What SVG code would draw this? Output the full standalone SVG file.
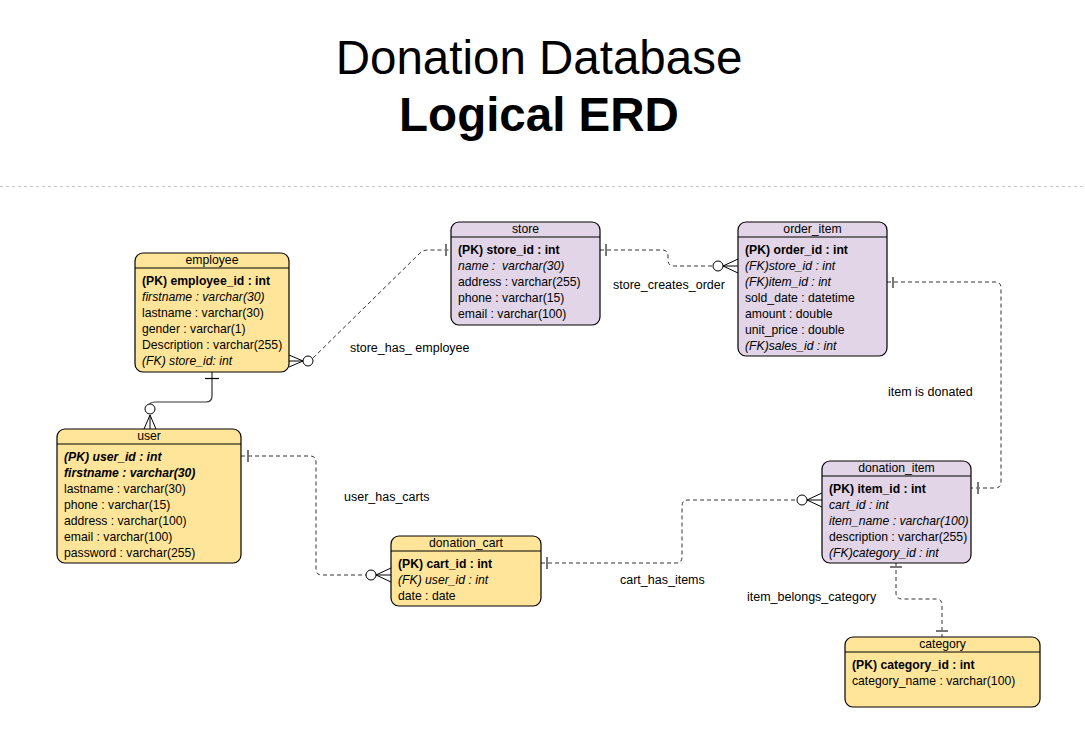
<svg xmlns="http://www.w3.org/2000/svg" width="1085" height="735" viewBox="0 0 1085 735">
<style>
text{font-family:"Liberation Sans",Arial,sans-serif;fill:#000;white-space:pre}
.t{font-size:47.5px;text-anchor:middle}
.b{font-weight:bold}
.i{font-style:italic}
.r{font-size:12.2px}
.h{font-size:12.2px;text-anchor:middle}
.lbl{font-size:12.5px}
.y{fill:#FFE599;stroke:#000;stroke-width:1.2}
.p{fill:#E1D5E7;stroke:#000;stroke-width:1.2}
.hl{stroke:#000;stroke-width:1.2}
.dash{fill:none;stroke:#333;stroke-width:1;stroke-dasharray:4 3}
.solid{fill:none;stroke:#333;stroke-width:1.2}
.bar{stroke:#777;stroke-width:2}
.circ{fill:#fff;stroke:#000;stroke-width:1}
.crow{fill:none;stroke:#000;stroke-width:1}
</style>
<rect width="1085" height="735" fill="#fff"/>
<text class="t" x="539" y="74">Donation Database</text>
<text class="t b" x="539" y="131">Logical ERD</text>
<line x1="0" y1="186.5" x2="1085" y2="186.5" stroke="#c8c8c8" stroke-dasharray="3 3"/>

<g id="connectors">
  <!-- store_has_employee -->
  <path class="dash" d="M313,358 L419,254 Q423,250 428,250 L451,250"/>
  <line class="bar" x1="446" y1="244" x2="446" y2="256"/>
  <circle class="circ" cx="308" cy="361" r="5"/>
  <path class="crow" d="M289,355 L303,361 L289,367 M289,361 L303,361"/>
  <text class="lbl" x="350" y="352">store_has_ employee</text>

  <!-- employee - user -->
  <path class="solid" d="M212,372 L212,396 Q212,402 206,402 L156,402 Q150,402 150,404"/>
  <line x1="205" y1="378.5" x2="219" y2="378.5" stroke="#000" stroke-width="1.2"/>
  <circle class="circ" cx="150" cy="409" r="5"/>
  <path class="crow" d="M144,429 L150,415 L156,429 M150,415 L150,429"/>

  <!-- store_creates_order -->
  <path class="dash" d="M600,250 L662,250 Q668,250 668,256 L668,260 Q668,266 674,266 L713,266"/>
  <line class="bar" x1="606" y1="244" x2="606" y2="256"/>
  <circle class="circ" cx="718" cy="266" r="5"/>
  <path class="crow" d="M738,259 L723,266 L738,273 M723,266 L738,266"/>
  <text class="lbl" x="613" y="289">store_creates_order</text>

  <!-- item is donated -->
  <path class="dash" d="M887,282 L995,282 Q1001,282 1001,288 L1001,482 Q1001,488 995,488 L971,488"/>
  <line class="bar" x1="893" y1="277" x2="893" y2="288"/>
  <line class="bar" x1="978" y1="482" x2="978" y2="494"/>
  <text class="lbl" x="888" y="396">item is donated</text>

  <!-- user_has_carts -->
  <path class="dash" d="M241,456 L310,456 Q316,456 316,462 L316,569 Q316,575 322,575 L366,575"/>
  <line class="bar" x1="248" y1="450" x2="248" y2="462"/>
  <circle class="circ" cx="371" cy="575" r="5"/>
  <path class="crow" d="M391,568 L376,575 L391,582 M376,575 L391,575"/>
  <text class="lbl" x="344" y="501">user_has_carts</text>

  <!-- cart_has_items -->
  <path class="dash" d="M541,563 L676,563 Q682,563 682,557 L682,506 Q682,500 688,500 L797,500"/>
  <line class="bar" x1="547" y1="557" x2="547" y2="569"/>
  <circle class="circ" cx="802" cy="500" r="5"/>
  <path class="crow" d="M822,493 L807,500 L822,507 M807,500 L822,500"/>
  <text class="lbl" x="620" y="584">cart_has_items</text>

  <!-- item_belongs_category -->
  <path class="dash" d="M896,563 L896,593 Q896,599 902,599 L936,599 Q942,599 942,605 L942,637"/>
  <line class="bar" x1="890" y1="567" x2="902" y2="567"/>
  <line class="bar" x1="936" y1="631" x2="948" y2="631"/>
  <text class="lbl" x="747" y="601">item_belongs_category</text>
</g>

<g id="employee">
  <rect class="y" x="135" y="253" width="154" height="119" rx="8"/>
  <line class="hl" x1="135" y1="268" x2="289" y2="268"/>
  <text class="h" x="212" y="264">employee</text>
  <text class="r b" x="142" y="285">(PK) employee_id : int</text>
  <text class="r i" x="142" y="301">firstname : varchar(30)</text>
  <text class="r" x="142" y="317">lastname : varchar(30)</text>
  <text class="r" x="142" y="333">gender : varchar(1)</text>
  <text class="r" x="142" y="349">Description : varchar(255)</text>
  <text class="r i" x="142" y="365">(FK) store_id: int</text>
</g>

<g id="store">
  <rect class="p" x="451" y="222" width="149" height="103" rx="8"/>
  <line class="hl" x1="451" y1="237" x2="600" y2="237"/>
  <text class="h" x="525.5" y="233">store</text>
  <text class="r b" x="458" y="254">(PK) store_id : int</text>
  <text class="r i" x="458" y="270">name :  varchar(30)</text>
  <text class="r" x="458" y="286">address : varchar(255)</text>
  <text class="r" x="458" y="302">phone : varchar(15)</text>
  <text class="r" x="458" y="318">email : varchar(100)</text>
</g>

<g id="order_item">
  <rect class="p" x="738" y="222" width="149" height="134" rx="8"/>
  <line class="hl" x1="738" y1="237" x2="887" y2="237"/>
  <text class="h" x="812.5" y="233">order_item</text>
  <text class="r b" x="745" y="254">(PK) order_id : int</text>
  <text class="r i" x="745" y="270">(FK)store_id : int</text>
  <text class="r i" x="745" y="286">(FK)item_id : int</text>
  <text class="r" x="745" y="302">sold_date : datetime</text>
  <text class="r" x="745" y="318">amount : double</text>
  <text class="r" x="745" y="334">unit_price : double</text>
  <text class="r i" x="745" y="350">(FK)sales_id : int</text>
</g>

<g id="user">
  <rect class="y" x="57" y="429" width="184" height="134" rx="8"/>
  <line class="hl" x1="57" y1="444" x2="241" y2="444"/>
  <text class="h" x="149" y="440">user</text>
  <text class="r b i" x="64" y="461">(PK) user_id : int</text>
  <text class="r b i" x="64" y="477">firstname : varchar(30)</text>
  <text class="r" x="64" y="493">lastname : varchar(30)</text>
  <text class="r" x="64" y="509">phone : varchar(15)</text>
  <text class="r" x="64" y="525">address : varchar(100)</text>
  <text class="r" x="64" y="541">email : varchar(100)</text>
  <text class="r" x="64" y="557">password : varchar(255)</text>
</g>

<g id="donation_cart">
  <rect class="y" x="391" y="536" width="150" height="70" rx="8"/>
  <line class="hl" x1="391" y1="551" x2="541" y2="551"/>
  <text class="h" x="466" y="547">donation_cart</text>
  <text class="r b" x="398" y="568">(PK) cart_id : int</text>
  <text class="r i" x="398" y="584">(FK) user_id : int</text>
  <text class="r" x="398" y="600">date : date</text>
</g>

<g id="donation_item">
  <rect class="p" x="822" y="461" width="149" height="102" rx="8"/>
  <line class="hl" x1="822" y1="476" x2="971" y2="476"/>
  <text class="h" x="896.5" y="472">donation_item</text>
  <text class="r b" x="829" y="493">(PK) item_id : int</text>
  <text class="r i" x="829" y="509">cart_id : int</text>
  <text class="r i" x="829" y="525">item_name : varchar(100)</text>
  <text class="r" x="829" y="541">description : varchar(255)</text>
  <text class="r i" x="829" y="557">(FK)category_id : int</text>
</g>

<g id="category">
  <rect class="y" x="845" y="637" width="195" height="70" rx="8"/>
  <line class="hl" x1="845" y1="652" x2="1040" y2="652"/>
  <text class="h" x="942.5" y="648">category</text>
  <text class="r b" x="852" y="669">(PK) category_id : int</text>
  <text class="r" x="852" y="685">category_name : varchar(100)</text>
</g>
</svg>
